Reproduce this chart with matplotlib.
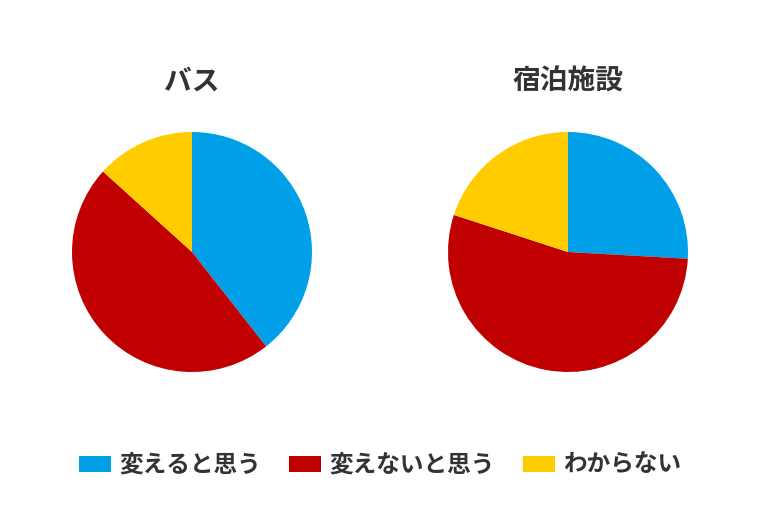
import matplotlib.pyplot as plt
from matplotlib.patches import Patch

plt.rcParams['font.family'] = ['Noto Sans CJK JP', 'DejaVu Sans']

titles = ['バス', '宿泊施設']
labels = ['変えると思う', '変えないと思う', 'わからない']
bus = [39.4, 47.3, 13.3]
hotel = [25.9, 54.1, 20.0]
colors = ['#00A0E9', '#C00000', '#FFCC00']

W, H = 760, 507
fig = plt.figure(figsize=(W / 100, H / 100), dpi=100)

centers = [(192, 252), (568, 252)]
r = 120
for (cx, cy), title, vals in zip(centers, titles, [bus, hotel]):
    ax = fig.add_axes([(cx - r) / W, (H - cy - r) / H, 2 * r / W, 2 * r / H])
    ax.pie(vals, colors=colors, startangle=90, counterclock=False,
           wedgeprops=dict(linewidth=0))
    ax.set_xlim(-1, 1)
    ax.set_ylim(-1, 1)
    ax.set_aspect('equal')
    ax.axis('off')
    fig.text(cx / W, 1 - 82 / H, title, ha='center', va='center',
             fontsize=20, fontweight='bold', color='#333333')

handles = [Patch(facecolor=c, edgecolor='none') for c in colors]
fig.legend(handles, labels, loc='center', bbox_to_anchor=(0.5, 1 - 465 / H),
           ncol=3, frameon=False, handlelength=1.35,
           handleheight=0.68, handletextpad=0.34, columnspacing=1.2,
           prop=dict(weight='bold', size=17))
for t in fig.legends[0].get_texts():
    t.set_color('#333333')

fig.savefig('out.png', dpi=100)
